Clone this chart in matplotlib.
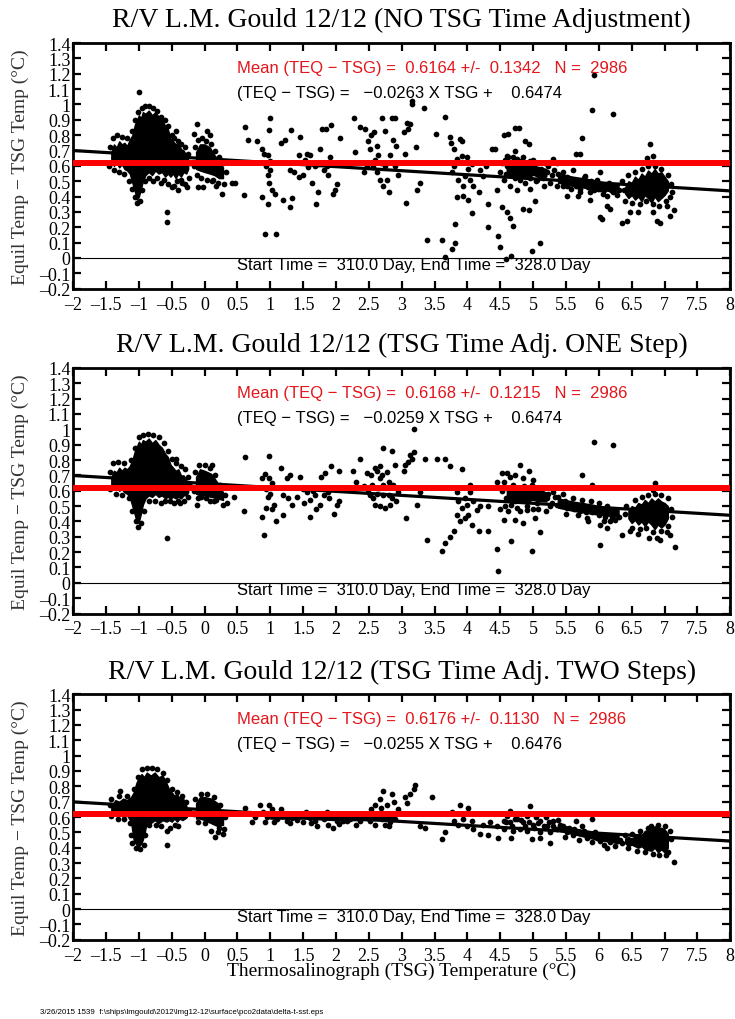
import matplotlib
matplotlib.use("Agg")
import matplotlib.pyplot as plt
from matplotlib.ticker import MultipleLocator, FuncFormatter

SERIF = "Liberation Serif"
SANS = "Liberation Sans"

# --- chart values ---
titles = [
    "R/V L.M. Gould 12/12 (NO TSG Time Adjustment)",
    "R/V L.M. Gould 12/12 (TSG Time Adj. ONE Step)",
    "R/V L.M. Gould 12/12 (TSG Time Adj. TWO Steps)",
]
means = [0.6164, 0.6168, 0.6176]
stds = [0.1342, 0.1215, 0.1130]
slopes = [-0.0263, -0.0259, -0.0255]
intercepts = [0.6474, 0.6474, 0.6476]
n_obs = 2986
start_day = 310.0
end_day = 328.0

# dense parts of the cloud: x, lower edge, upper edge
p1_blob_x = [
    [-1.42, -1.38, -1.34, -1.30, -1.26, -1.22, -1.18, -1.14, -1.10, -1.06, -1.03, -1.00, -0.97, -0.94, -0.90,
     -0.85, -0.80, -0.75, -0.70, -0.65, -0.60, -0.56, -0.52, -0.48, -0.44, -0.40, -0.36, -0.32, -0.28, -0.25],
    [-0.13, -0.07, 0.0, 0.08, 0.15, 0.22, 0.28],
    [4.6, 4.8, 5.0, 5.2],
    [5.38, 5.6, 5.9, 6.1, 6.3],
    [6.40, 6.45, 6.5, 6.55, 6.6, 6.65, 6.7, 6.75, 6.8, 6.85, 6.9, 6.95, 7.0, 7.05],
]
p1_blob_lo = [
    [0.63, 0.60, 0.62, 0.59, 0.61, 0.58, 0.57, 0.55, 0.49, 0.43, 0.38, 0.40, 0.45, 0.50, 0.54,
     0.56, 0.54, 0.57, 0.55, 0.56, 0.53, 0.55, 0.53, 0.55, 0.52, 0.55, 0.53, 0.56, 0.55, 0.58],
    [0.58, 0.57, 0.56, 0.55, 0.54, 0.52, 0.52],
    [0.54, 0.53, 0.54, 0.53],
    [0.49, 0.47, 0.45, 0.44, 0.43],
    [0.42, 0.39, 0.41, 0.38, 0.40, 0.37, 0.41, 0.39, 0.36, 0.40, 0.37, 0.39, 0.41, 0.44],
]
p1_blob_hi = [
    [0.69, 0.74, 0.72, 0.76, 0.74, 0.75, 0.73, 0.77, 0.80, 0.87, 0.90, 0.93, 0.91, 0.95, 0.94,
     0.96, 0.93, 0.95, 0.92, 0.90, 0.86, 0.84, 0.78, 0.76, 0.74, 0.75, 0.71, 0.70, 0.67, 0.64],
    [0.69, 0.74, 0.74, 0.72, 0.67, 0.63, 0.59],
    [0.60, 0.61, 0.60, 0.58],
    [0.55, 0.53, 0.51, 0.49, 0.48],
    [0.46, 0.50, 0.49, 0.53, 0.51, 0.55, 0.53, 0.57, 0.55, 0.58, 0.55, 0.56, 0.53, 0.50],
]
p1_pts = [
    (-0.995, 1.078), (-0.58, 0.297), (-0.58, 0.232), (-0.43, 0.83), (-0.40, 0.44), (-0.35, 0.49),
    (-0.27, 0.46), (-0.12, 0.876), (-0.16, 0.81), (0.03, 0.83), (0.08, 0.80), (-0.10, 0.46),
    (-0.02, 0.46), (0.18, 0.47), (0.26, 0.42), (0.13, 0.51), (0.41, 0.49), (0.46, 0.49),
    (0.61, 0.85), (0.66, 0.77), (0.79, 0.76), (0.60, 0.41), (1.00, 0.91), (0.98, 0.835),
    (0.87, 0.71), (0.91, 0.68), (0.97, 0.67), (1.00, 0.63), (0.94, 0.60), (1.00, 0.57),
    (0.97, 0.54), (0.98, 0.49), (1.02, 0.44), (0.88, 0.395), (0.97, 0.35), (1.07, 0.42),
    (1.20, 0.38), (1.30, 0.33), (1.33, 0.39), (0.92, 0.156), (1.09, 0.156), (1.16, 0.75),
    (1.22, 0.77), (1.31, 0.835), (1.30, 0.57), (1.36, 0.56), (1.45, 0.785), (1.44, 0.67),
    (1.50, 0.54), (1.53, 0.64), (1.56, 0.68), (1.61, 0.67), (1.64, 0.49), (1.70, 0.35),
    (1.73, 0.43), (1.76, 0.71), (1.78, 0.84), (1.85, 0.84), (1.93, 0.865), (2.06, 0.78),
    (1.96, 0.42), (1.98, 0.445), (2.01, 0.48), (1.68, 0.60), (1.81, 0.57), (1.88, 0.54),
    (1.91, 0.655), (1.43, 0.525), (1.58, 0.59), (1.73, 0.61), (1.86, 0.60), (2.27, 0.91),
    (2.29, 0.69), (2.37, 0.85), (2.44, 0.84), (2.48, 0.76), (2.54, 0.80), (2.58, 0.82),
    (2.52, 0.71), (2.62, 0.73), (2.64, 0.67), (2.57, 0.59), (2.62, 0.56), (2.67, 0.51),
    (2.72, 0.47), (2.80, 0.43), (2.77, 0.51), (2.70, 0.91), (2.75, 0.83), (2.85, 0.91),
    (2.90, 0.91), (2.87, 0.77), (2.92, 0.73), (2.82, 0.67), (2.90, 0.60), (2.95, 0.54),
    (2.47, 0.60), (2.42, 0.56), (2.68, 0.62), (2.75, 0.60), (2.60, 0.64),
    (3.15, 1.02), (3.16, 1.00), (3.34, 0.98), (3.08, 0.88), (3.13, 0.87), (3.03, 0.82),
    (3.10, 0.84), (3.22, 0.72), (3.05, 0.68), (3.07, 0.36), (3.23, 0.44), (3.28, 0.49),
    (3.38, 0.12), (3.61, 0.12), (3.76, 0.06), (3.81, 0.10), (3.66, 0.004), (3.66, 0.92),
    (3.52, 0.81), (3.74, 0.785), (3.75, 0.75), (3.79, 0.71), (3.89, 0.775), (3.91, 0.76),
    (3.76, 0.56), (3.79, 0.60), (3.84, 0.645), (3.91, 0.665), (3.99, 0.655), (4.01, 0.58),
    (4.07, 0.61), (3.86, 0.51), (3.96, 0.535), (4.04, 0.51), (3.94, 0.47), (4.09, 0.47),
    (3.94, 0.405), (4.01, 0.38), (4.07, 0.29), (4.17, 0.43), (3.84, 0.395), (3.81, 0.22),
    (4.32, 0.35), (4.32, 0.20), (4.37, 0.71), (4.42, 0.71), (4.45, 0.44), (4.52, 0.33),
    (4.60, 0.30), (4.65, 0.26), (4.70, 0.21), (4.47, 0.145), (4.50, 0.07), (4.59, -0.006),
    (4.66, 0.015), (4.99, 0.048), (5.11, 0.098), (4.55, 0.80), (4.62, 0.81), (4.73, 0.845),
    (4.79, 0.845), (4.88, 0.765), (4.93, 0.74), (4.73, 0.70), (4.75, 0.645), (4.60, 0.665),
    (4.85, 0.32), (4.93, 0.31), (5.03, 0.37), (4.95, 0.45), (5.06, 0.51), (5.31, 0.645),
    (5.36, 0.62), (5.74, 0.78), (5.72, 0.68), (5.66, 0.68), (5.89, 0.965), (5.93, 1.19),
    (6.22, 0.94), (5.87, 0.38), (6.02, 0.265), (6.05, 0.255), (6.12, 0.34), (6.17, 0.32),
    (6.35, 0.23), (6.43, 0.24), (6.48, 0.30), (6.60, 0.30), (6.78, 0.74), (6.73, 0.65),
    (6.83, 0.665), (6.83, 0.30), (6.88, 0.24), (6.93, 0.23), (7.04, 0.34), (7.09, 0.275),
    (7.14, 0.31), (4.60, 0.60), (4.70, 0.56), (4.80, 0.51), (4.90, 0.60), (5.00, 0.57),
    (5.11, 0.535), (5.21, 0.56), (5.26, 0.49), (4.65, 0.47), (4.75, 0.44), (4.55, 0.51),
    (4.50, 0.56), (5.08, 0.62), (5.16, 0.47), (4.29, 0.60), (4.24, 0.535), (4.19, 0.57),
    (5.41, 0.51), (5.51, 0.47), (5.61, 0.49), (5.72, 0.45), (5.82, 0.47), (5.92, 0.44),
    (6.02, 0.45), (6.12, 0.405), (6.22, 0.43), (5.46, 0.56), (5.61, 0.57), (5.79, 0.535),
    (5.97, 0.51), (5.51, 0.405), (5.69, 0.405), (5.89, 0.49), (5.36, 0.47), (6.02, 0.56),
    (6.15, 0.49), (4.62, 0.66), (4.84, 0.66), (5.00, 0.64), (5.18, 0.62),
    (4.52, 0.62), (4.58, 0.55), (4.63, 0.58), (4.68, 0.62), (4.72, 0.52), (4.78, 0.57),
    (4.82, 0.63), (4.86, 0.54), (4.92, 0.56), (4.96, 0.52), (5.02, 0.60), (5.06, 0.55),
    (5.12, 0.58), (5.15, 0.52), (5.22, 0.60), (5.28, 0.54), (5.32, 0.57), (4.57, 0.64),
    (4.67, 0.54), (4.76, 0.60), (4.88, 0.49), (5.04, 0.50), (5.18, 0.56), (4.95, 0.63),
    (4.70, 0.66), (5.38, 0.55), (5.42, 0.52), (5.48, 0.50), (5.52, 0.53), (5.56, 0.49),
    (5.62, 0.51), (5.66, 0.47), (5.70, 0.50), (5.75, 0.48), (5.78, 0.52), (5.84, 0.46),
    (5.88, 0.50), (5.94, 0.47), (5.98, 0.45), (6.04, 0.48), (6.08, 0.44), (6.14, 0.46),
    (6.19, 0.44), (6.25, 0.46), (6.30, 0.44), (5.45, 0.47), (5.58, 0.45), (5.72, 0.43),
    (5.86, 0.43), (6.06, 0.42), (6.28, 0.41),
    (-1.44, 0.72), (-1.40, 0.78), (-1.33, 0.80), (-1.25, 0.79), (-1.18, 0.78), (-1.10, 0.83),
    (-1.06, 0.90), (-1.02, 0.95), (-0.96, 0.98), (-0.90, 0.99), (-0.84, 0.99), (-0.78, 0.98),
    (-0.72, 0.96), (-0.66, 0.92), (-0.60, 0.90), (-0.55, 0.86), (-0.50, 0.80), (-0.46, 0.78),
    (-0.40, 0.76), (-0.36, 0.74), (-0.30, 0.72), (-0.26, 0.68), (-0.22, 0.62), (-1.45, 0.60),
    (-1.38, 0.57), (-1.30, 0.56), (-1.22, 0.55), (-1.15, 0.50), (-1.10, 0.45), (-1.06, 0.40),
    (-1.03, 0.36), (-0.98, 0.37), (-0.95, 0.44), (-0.90, 0.50), (-0.85, 0.52), (-0.78, 0.50),
    (-0.72, 0.52), (-0.66, 0.49), (-0.62, 0.51), (-0.56, 0.48), (-0.50, 0.46), (-0.46, 0.47),
    (-0.42, 0.50), (-0.36, 0.51), (-0.30, 0.48), (-0.24, 0.52), (-0.15, 0.72), (-0.10, 0.77),
    (-0.04, 0.78), (0.02, 0.76), (0.10, 0.74), (0.16, 0.70), (0.22, 0.66), (0.28, 0.62),
    (0.32, 0.56), (-0.16, 0.60), (-0.12, 0.54), (-0.05, 0.52), (0.04, 0.51), (0.12, 0.50),
    (0.20, 0.49), (0.30, 0.48), (6.35, 0.50), (6.38, 0.44), (6.45, 0.54), (6.55, 0.56),
    (6.65, 0.58), (6.75, 0.60), (6.85, 0.60), (6.95, 0.58), (7.05, 0.54), (7.10, 0.48),
    (7.12, 0.43), (6.40, 0.37), (6.50, 0.36), (6.62, 0.35), (6.72, 0.37), (6.82, 0.35),
    (6.92, 0.34), (7.02, 0.37), (7.08, 0.40),
]

p2_blob_x = [
    [-1.42, -1.38, -1.34, -1.30, -1.26, -1.22, -1.18, -1.14, -1.10, -1.06, -1.03, -1.00, -0.97, -0.94, -0.90,
     -0.85, -0.80, -0.75, -0.70, -0.65, -0.60, -0.56, -0.52, -0.48, -0.44, -0.40, -0.36, -0.32, -0.28, -0.25],
    [-0.13, -0.07, 0.0, 0.1, 0.2, 0.28],
    [4.6, 4.8, 5.0, 5.2],
    [5.38, 5.6, 5.9, 6.1, 6.3],
    [6.45, 6.5, 6.55, 6.6, 6.65, 6.7, 6.75, 6.8, 6.85, 6.9, 6.95, 7.0, 7.05],
]
p2_blob_lo = [
    [0.63, 0.61, 0.62, 0.60, 0.61, 0.59, 0.58, 0.56, 0.50, 0.44, 0.39, 0.40, 0.45, 0.51, 0.55,
     0.57, 0.56, 0.58, 0.56, 0.57, 0.55, 0.56, 0.55, 0.56, 0.55, 0.56, 0.55, 0.57, 0.57, 0.59],
    [0.58, 0.57, 0.57, 0.56, 0.55, 0.54],
    [0.54, 0.53, 0.54, 0.53],
    [0.49, 0.47, 0.45, 0.44, 0.43],
    [0.42, 0.39, 0.41, 0.38, 0.40, 0.37, 0.40, 0.38, 0.35, 0.38, 0.36, 0.38, 0.42],
]
p2_blob_hi = [
    [0.69, 0.73, 0.72, 0.75, 0.73, 0.75, 0.74, 0.76, 0.80, 0.86, 0.89, 0.92, 0.90, 0.93, 0.92,
     0.94, 0.91, 0.93, 0.90, 0.88, 0.84, 0.82, 0.77, 0.75, 0.73, 0.74, 0.70, 0.70, 0.67, 0.64],
    [0.69, 0.74, 0.73, 0.71, 0.65, 0.59],
    [0.61, 0.62, 0.61, 0.59],
    [0.55, 0.53, 0.51, 0.49, 0.48],
    [0.47, 0.50, 0.49, 0.52, 0.51, 0.54, 0.52, 0.55, 0.53, 0.55, 0.53, 0.52, 0.50],
]
p2_pts = [
    (-0.58, 0.29), (-0.43, 0.81), (-0.38, 0.52), (0.11, 0.77), (-0.12, 0.51), (-0.05, 0.56),
    (0.08, 0.53), (0.18, 0.54), (0.28, 0.51), (0.44, 0.56), (0.34, 0.52), (0.61, 0.82),
    (0.60, 0.47), (0.98, 0.825), (0.87, 0.68), (0.92, 0.71), (0.98, 0.68), (1.02, 0.65),
    (0.94, 0.61), (1.00, 0.58), (0.97, 0.56), (1.05, 0.51), (1.02, 0.48), (0.88, 0.43),
    (0.94, 0.49), (0.91, 0.31), (1.09, 0.40), (1.16, 0.75), (1.25, 0.68), (1.30, 0.70),
    (1.20, 0.57), (1.27, 0.55), (1.33, 0.51), (1.20, 0.44), (1.45, 0.69), (1.50, 0.61),
    (1.56, 0.595), (1.60, 0.54), (1.68, 0.57), (1.73, 0.62), (1.77, 0.69), (1.83, 0.715),
    (1.93, 0.76), (2.05, 0.73), (1.60, 0.43), (1.70, 0.48), (1.76, 0.51), (1.97, 0.45),
    (2.01, 0.51), (2.04, 0.53), (1.81, 0.57), (1.88, 0.595), (1.40, 0.56), (1.52, 0.52),
    (1.65, 0.60), (1.90, 0.55), (2.26, 0.73), (2.37, 0.81), (2.47, 0.715), (2.54, 0.70),
    (2.59, 0.75), (2.67, 0.76), (2.72, 0.88), (2.85, 0.86), (2.90, 0.77), (2.31, 0.66),
    (2.42, 0.63), (2.49, 0.595), (2.52, 0.57), (2.57, 0.55), (2.59, 0.51), (2.67, 0.50),
    (2.75, 0.49), (2.82, 0.51), (2.85, 0.55), (2.80, 0.57), (2.72, 0.57), (2.65, 0.62),
    (2.72, 0.64), (2.80, 0.66), (2.87, 0.64), (2.95, 0.595), (2.92, 0.53), (2.67, 0.68),
    (2.62, 0.73), (2.70, 0.70), (2.78, 0.72), (2.55, 0.64), (2.62, 0.58),
    (3.19, 1.00), (3.10, 0.79), (3.15, 0.81), (3.05, 0.77), (3.13, 0.83), (3.18, 0.85),
    (3.03, 0.73), (3.28, 0.595), (3.23, 0.51), (3.07, 0.42), (3.38, 0.28), (3.61, 0.21),
    (3.66, 0.26), (3.74, 0.30), (3.79, 0.34), (3.35, 0.81), (3.53, 0.81), (3.66, 0.81),
    (3.74, 0.76), (3.91, 0.74), (3.84, 0.595), (3.86, 0.53), (3.91, 0.49), (3.96, 0.55),
    (3.99, 0.51), (4.04, 0.595), (4.04, 0.64), (4.09, 0.53), (4.14, 0.475), (4.19, 0.50),
    (4.01, 0.44), (3.84, 0.44), (3.89, 0.40), (3.96, 0.42), (4.07, 0.38), (4.17, 0.34),
    (4.32, 0.34), (4.32, 0.50), (4.45, 0.22), (4.47, 0.08), (4.45, 0.66), (4.55, 0.41),
    (4.52, 0.715), (4.60, 0.715), (4.67, 0.27), (4.73, 0.41), (4.80, 0.77), (4.85, 0.39),
    (4.99, 0.21), (5.11, 0.33), (4.93, 0.73), (5.03, 0.42), (4.90, 0.475), (5.06, 0.595),
    (5.16, 0.62), (5.21, 0.55), (5.31, 0.595), (5.36, 0.51), (5.41, 0.53), (4.55, 0.66),
    (4.65, 0.69), (4.72, 0.70), (4.85, 0.68), (5.00, 0.67), (4.50, 0.48), (4.62, 0.47),
    (4.80, 0.47), (5.00, 0.48), (5.20, 0.47), (5.74, 0.705), (5.89, 0.64), (5.84, 0.40),
    (6.02, 0.245), (5.93, 0.92), (6.22, 0.90), (6.12, 0.355), (6.17, 0.40), (6.02, 0.38),
    (6.35, 0.31), (6.48, 0.34), (6.60, 0.32), (6.86, 0.65), (6.83, 0.605), (6.76, 0.29),
    (6.88, 0.29), (6.93, 0.28), (7.04, 0.33), (7.09, 0.31), (7.16, 0.235),
    (4.52, 0.60), (4.58, 0.55), (4.63, 0.62), (4.68, 0.58), (4.72, 0.53), (4.78, 0.61),
    (4.82, 0.56), (4.86, 0.63), (4.92, 0.54), (4.96, 0.59), (5.02, 0.56), (5.06, 0.52),
    (5.12, 0.60), (5.16, 0.55), (5.22, 0.58), (5.28, 0.52), (5.33, 0.56), (4.57, 0.50),
    (4.66, 0.51), (4.75, 0.49), (4.90, 0.50), (5.08, 0.48), (5.25, 0.50), (4.98, 0.64),
    (4.70, 0.64), (5.38, 0.56), (5.42, 0.51), (5.48, 0.53), (5.52, 0.49), (5.57, 0.52),
    (5.62, 0.48), (5.67, 0.51), (5.71, 0.47), (5.76, 0.50), (5.80, 0.46), (5.85, 0.49),
    (5.90, 0.46), (5.95, 0.48), (6.00, 0.44), (6.05, 0.47), (6.10, 0.43), (6.15, 0.46),
    (6.20, 0.43), (6.26, 0.45), (6.31, 0.43), (5.45, 0.58), (5.60, 0.55), (5.75, 0.54),
    (5.88, 0.53), (6.00, 0.52), (6.12, 0.50), (5.50, 0.45), (5.68, 0.44), (5.82, 0.42),
    (6.08, 0.40), (6.25, 0.41), (6.40, 0.45), (6.42, 0.50), (6.55, 0.54), (6.65, 0.56),
    (6.75, 0.57), (6.85, 0.58), (6.95, 0.57), (7.05, 0.55), (7.10, 0.48), (7.11, 0.43),
    (6.50, 0.36), (6.62, 0.35), (6.72, 0.36), (6.82, 0.33), (6.95, 0.34), (7.05, 0.37),
    (-1.44, 0.72), (-1.40, 0.78), (-1.32, 0.79), (-1.22, 0.78), (-1.12, 0.80), (-1.06, 0.88),
    (-1.00, 0.95), (-0.94, 0.96), (-0.86, 0.97), (-0.78, 0.96), (-0.70, 0.95), (-0.62, 0.91),
    (-0.56, 0.86), (-0.50, 0.81), (-0.44, 0.78), (-0.36, 0.76), (-0.30, 0.74), (-0.26, 0.69),
    (-0.22, 0.63), (-1.44, 0.61), (-1.35, 0.58), (-1.25, 0.57), (-1.15, 0.55), (-1.10, 0.47),
    (-1.05, 0.40), (-1.01, 0.365), (-0.97, 0.39), (-0.93, 0.47), (-0.85, 0.53), (-0.75, 0.53),
    (-0.66, 0.52), (-0.60, 0.53), (-0.52, 0.53), (-0.46, 0.52), (-0.40, 0.53), (-0.32, 0.53),
    (-0.26, 0.56), (-0.15, 0.72), (-0.08, 0.77), (0.0, 0.77), (0.08, 0.75), (0.16, 0.70),
    (0.24, 0.64), (0.31, 0.57), (-0.16, 0.60), (-0.10, 0.55), (0.02, 0.55), (0.14, 0.53),
]

p3_blob_x = [
    [-1.42, -1.36, -1.30, -1.24, -1.18, -1.12, -1.08, -1.04, -1.00, -0.96, -0.92, -0.88, -0.82,
     -0.76, -0.70, -0.64, -0.58, -0.54, -0.50, -0.46, -0.42, -0.38, -0.34, -0.30, -0.27],
    [-0.13, -0.07, 0.0, 0.1, 0.2, 0.28],
    [1.0, 1.5, 2.0, 2.5, 2.9],
    [5.4, 5.7, 6.0, 6.3],
    [6.4, 6.45, 6.5, 6.6, 6.65, 6.7, 6.8, 6.85, 6.9, 6.95, 7.0, 7.05],
]
p3_blob_lo = [
    [0.63, 0.61, 0.62, 0.60, 0.61, 0.57, 0.45, 0.42, 0.41, 0.43, 0.48, 0.57, 0.56,
     0.58, 0.56, 0.58, 0.57, 0.58, 0.57, 0.59, 0.57, 0.59, 0.58, 0.59, 0.60],
    [0.59, 0.59, 0.58, 0.56, 0.54, 0.55],
    [0.59, 0.59, 0.58, 0.58, 0.58],
    [0.51, 0.48, 0.45, 0.43],
    [0.43, 0.41, 0.42, 0.40, 0.41, 0.39, 0.38, 0.40, 0.37, 0.39, 0.37, 0.40],
]
p3_blob_hi = [
    [0.67, 0.71, 0.70, 0.72, 0.71, 0.73, 0.76, 0.82, 0.86, 0.88, 0.86, 0.89, 0.87,
     0.89, 0.86, 0.87, 0.82, 0.78, 0.76, 0.74, 0.75, 0.72, 0.73, 0.70, 0.66],
    [0.69, 0.73, 0.73, 0.72, 0.69, 0.61],
    [0.62, 0.62, 0.61, 0.62, 0.62],
    [0.55, 0.52, 0.50, 0.48],
    [0.46, 0.47, 0.46, 0.49, 0.48, 0.51, 0.52, 0.54, 0.53, 0.53, 0.52, 0.49],
]
p3_pts = [
    (-1.29, 0.77), (-0.58, 0.42), (-0.58, 0.51), (-0.53, 0.53), (-0.45, 0.55), (-0.40, 0.54),
    (0.16, 0.47), (0.28, 0.49), (0.10, 0.51), (0.20, 0.50), (0.22, 0.53), (0.30, 0.52),
    (0.61, 0.66), (0.84, 0.68), (0.89, 0.63), (0.98, 0.68), (1.02, 0.65), (0.92, 0.57),
    (1.05, 0.565), (1.16, 0.655), (1.10, 0.585), (1.25, 0.575), (1.33, 0.595), (1.40, 0.58),
    (1.45, 0.62), (1.50, 0.565), (1.61, 0.595), (1.68, 0.575), (1.71, 0.54), (1.78, 0.62),
    (1.81, 0.585), (1.88, 0.55), (1.96, 0.53), (2.01, 0.575), (2.06, 0.61), (2.16, 0.575),
    (2.26, 0.61), (2.37, 0.575), (2.47, 0.595), (2.54, 0.65), (2.59, 0.68), (2.67, 0.715),
    (2.72, 0.77), (2.85, 0.75), (2.70, 0.585), (2.75, 0.55), (2.82, 0.565), (2.90, 0.585),
    (2.95, 0.65), (2.62, 0.62), (2.52, 0.575), (1.20, 0.61), (1.55, 0.63), (1.86, 0.63),
    (2.21, 0.585), (2.42, 0.61), (2.11, 0.575), (2.31, 0.55), (0.77, 0.60), (0.72, 0.57),
    (1.05, 0.61), (0.95, 0.60), (1.30, 0.56), (1.62, 0.56), (2.05, 0.555), (2.68, 0.66),
    (2.78, 0.68), (2.88, 0.70), (2.60, 0.55), (2.80, 0.54),
    (3.20, 0.81), (3.18, 0.78), (3.13, 0.75), (3.05, 0.73), (3.08, 0.69), (3.46, 0.73),
    (3.28, 0.54), (3.35, 0.53), (3.61, 0.455), (3.66, 0.50), (3.76, 0.63), (3.88, 0.68),
    (4.01, 0.66), (3.79, 0.575), (3.86, 0.55), (3.94, 0.585), (3.99, 0.54), (4.07, 0.575),
    (4.09, 0.52), (4.19, 0.49), (4.32, 0.48), (4.47, 0.465), (4.24, 0.55), (4.35, 0.565),
    (4.45, 0.54), (4.65, 0.64), (4.67, 0.465), (4.55, 0.575), (4.65, 0.565), (4.75, 0.585),
    (4.80, 0.52), (4.85, 0.565), (4.95, 0.67), (4.98, 0.455), (5.11, 0.465), (5.26, 0.43),
    (5.00, 0.55), (5.11, 0.575), (5.21, 0.54), (5.31, 0.575), (5.36, 0.52), (5.41, 0.55),
    (5.66, 0.575), (5.74, 0.54), (5.89, 0.585), (5.51, 0.50), (5.61, 0.48), (5.82, 0.465),
    (5.97, 0.465), (6.02, 0.445), (6.12, 0.40), (6.17, 0.435), (6.27, 0.445), (4.60, 0.61),
    (4.75, 0.62), (4.90, 0.61), (5.05, 0.60), (5.20, 0.60), (4.55, 0.52), (4.70, 0.51),
    (4.90, 0.51), (5.10, 0.50), (5.25, 0.50), (4.58, 0.57), (4.68, 0.54), (4.72, 0.59),
    (4.82, 0.58), (4.88, 0.54), (4.94, 0.57), (5.02, 0.53), (5.08, 0.56), (5.16, 0.54),
    (5.24, 0.57), (5.30, 0.54), (5.38, 0.58), (5.46, 0.54), (5.54, 0.53), (5.62, 0.52),
    (5.70, 0.50), (5.78, 0.51), (5.86, 0.49), (5.94, 0.50), (6.06, 0.48), (6.14, 0.46),
    (6.22, 0.47), (6.32, 0.45), (5.48, 0.47), (5.70, 0.45), (5.90, 0.44), (6.08, 0.42),
    (6.25, 0.41), (6.40, 0.48), (6.50, 0.49), (6.62, 0.51), (6.75, 0.53), (6.80, 0.54),
    (6.90, 0.55), (7.00, 0.54), (7.08, 0.51), (7.10, 0.46), (6.36, 0.43), (6.45, 0.40),
    (6.58, 0.38), (6.70, 0.37), (6.82, 0.36), (6.92, 0.35), (7.02, 0.35), (7.06, 0.37),
    (7.15, 0.31), (-1.44, 0.68), (-1.42, 0.72), (-1.30, 0.74), (-1.18, 0.74), (-1.08, 0.78),
    (-1.02, 0.86), (-0.96, 0.91), (-0.88, 0.92), (-0.80, 0.92), (-0.72, 0.91), (-0.64, 0.89),
    (-0.58, 0.84), (-0.50, 0.78), (-0.42, 0.76), (-0.34, 0.74), (-0.28, 0.70), (-0.24, 0.64),
    (-1.42, 0.61), (-1.32, 0.59), (-1.22, 0.59), (-1.14, 0.56), (-1.12, 0.48), (-1.10, 0.43),
    (-1.05, 0.40), (-0.98, 0.39), (-0.93, 0.42), (-0.91, 0.48), (-0.85, 0.55), (-0.74, 0.55),
    (-0.66, 0.54), (-0.15, 0.72), (-0.06, 0.75), (0.04, 0.75), (0.14, 0.73), (0.24, 0.68),
    (0.31, 0.60), (-0.16, 0.62), (-0.10, 0.57), (0.00, 0.56),
]

panel_blob_x = [p1_blob_x, p2_blob_x, p3_blob_x]
panel_blob_lo = [p1_blob_lo, p2_blob_lo, p3_blob_lo]
panel_blob_hi = [p1_blob_hi, p2_blob_hi, p3_blob_hi]
panel_pts = [p1_pts, p2_pts, p3_pts]

# --- layout (figure fractions) ---
axes_left, axes_width = 0.0996, 0.8939
axes_bottoms = [0.716, 0.3975, 0.0776]
axes_height = 0.2408


def fmt_tick(v, pos):
    v = round(v, 2)
    if abs(v) < 1e-9:
        return "0"
    s = f"{v:g}"
    return s.replace("-", "\u2013")


fig = plt.figure(figsize=(7.35, 10.2), dpi=100)

for i in range(3):
    ax = fig.add_axes([axes_left, axes_bottoms[i], axes_width, axes_height])

    for bx, blo, bhi in zip(panel_blob_x[i], panel_blob_lo[i], panel_blob_hi[i]):
        ax.fill_between(bx, blo, bhi, facecolor="black", edgecolor="black",
                        linewidth=1.0, joinstyle="round", zorder=2)
    px, py = zip(*panel_pts[i])
    ax.scatter(px, py, s=17, color="black", linewidths=0, zorder=3)

    xs = [-2, 8]
    ax.plot(xs, [slopes[i] * v + intercepts[i] for v in xs], color="black", lw=2.3, zorder=4)
    ax.axhline(0, color="black", lw=0.8, zorder=1)
    ax.axhline(means[i], color="#ff0000", lw=4.3, zorder=5)

    ax.set_xlim(-2, 8)
    ax.set_ylim(-0.2, 1.4)
    ax.xaxis.set_major_locator(MultipleLocator(0.5))
    ax.yaxis.set_major_locator(MultipleLocator(0.1))
    ax.xaxis.set_major_formatter(FuncFormatter(fmt_tick))
    ax.yaxis.set_major_formatter(FuncFormatter(fmt_tick))
    ax.tick_params(direction="in", length=6, width=1.6, top=True, right=True,
                   labelsize=13, pad=2)
    ax.tick_params(axis="x", pad=5)
    for lab in ax.get_xticklabels() + ax.get_yticklabels():
        lab.set_fontfamily(SERIF)
    for sp in ax.spines.values():
        sp.set_linewidth(2.0)

    ax.set_title(titles[i], fontsize=20, family=SERIF, pad=12)
    ax.set_ylabel("Equil Temp \u2212 TSG Temp (\u00b0C)", fontsize=14, family=SERIF, color="#333333")
    ax.yaxis.set_label_coords(-0.068, 0.5)

    ax.text(0.5, 1.24, f"Mean (TEQ \u2212 TSG) =  {means[i]:.4f} +/-  {stds[i]:.4f}   N =  {n_obs}",
            color="#e3161c", fontsize=12, family=SANS, va="center", zorder=6)
    ax.text(0.5, 1.08, f"(TEQ \u2212 TSG) =   \u2212{abs(slopes[i]):.4f} X TSG +    {intercepts[i]:.4f}",
            color="black", fontsize=12, family=SANS, va="center", zorder=6)
    ax.text(0.5, -0.045, f"Start Time =  {start_day:.1f} Day, End Time =  {end_day:.1f} Day",
            color="black", fontsize=12, family=SANS, va="center", zorder=6)

    if i == 2:
        ax.set_xlabel("Thermosalinograph (TSG) Temperature (\u00b0C)", fontsize=14, family=SERIF)
        ax.xaxis.set_label_coords(0.5, -0.09)

fig.text(40 / 735, 1 - 1013 / 1020,
         "3/26/2015 1539  f:\\ships\\lmgould\\2012\\lmg12-12\\surface\\pco2data\\delta-t-sst.eps",
         fontsize=5.7, family=SANS, va="center")

fig.savefig("out.png", dpi=100)
